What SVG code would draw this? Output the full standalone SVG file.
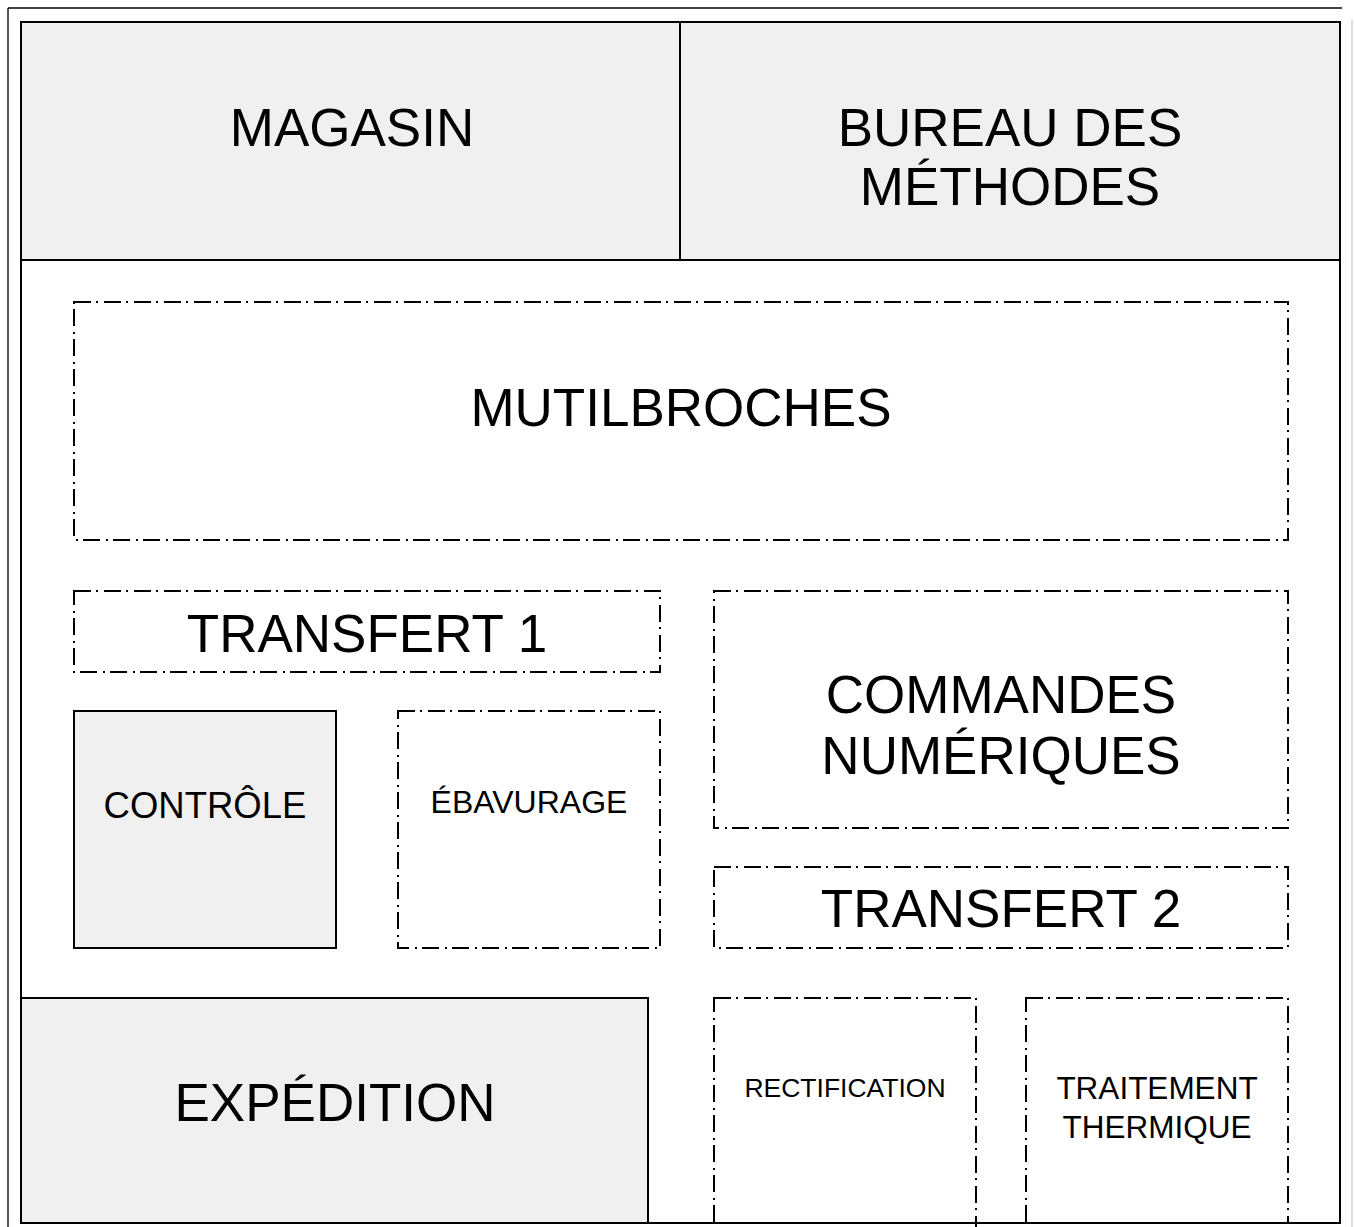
<svg xmlns="http://www.w3.org/2000/svg" width="1354" height="1227" viewBox="0 0 1354 1227">
<style>
text{font-family:"Liberation Sans",Arial,sans-serif;fill:#000;text-anchor:middle}
.solid{fill:#f0f0f0;stroke:#000;stroke-width:2}
.dash{fill:none;stroke:#000;stroke-width:2;stroke-dasharray:17 5 2 6}
.big{font-size:53px}
.mid{font-size:36.5px}
.sm{font-size:32px}
.tt{font-size:31.5px}
.xs{font-size:26.5px}
</style>
<rect width="1354" height="1227" fill="#fff"/>
<g id="frame">
<line x1="8" y1="8" x2="8" y2="1227" stroke="#555" stroke-width="2"/>
<line x1="8" y1="8" x2="1342" y2="8" stroke="#000" stroke-width="1.5"/>
<line x1="1352" y1="20" x2="1352" y2="1227" stroke="#bbb" stroke-width="1"/>
<rect x="21" y="22" width="1319" height="1201" fill="#fff" stroke="#000" stroke-width="2"/>
</g>
<g id="magasin"><rect class="solid" x="21" y="22" width="659" height="238"/><text class="big" x="352" y="146">MAGASIN</text></g>
<g id="bureau"><rect class="solid" x="680" y="22" width="660" height="238"/><text class="big" x="1010" y="146">BUREAU DES</text><text class="big" x="1010" y="205">MÉTHODES</text></g>
<g id="mutilbroches"><rect class="dash" x="74" y="302" width="1214" height="238"/><text class="big" x="681" y="426">MUTILBROCHES</text></g>
<g id="transfert1"><rect class="dash" x="74" y="591" width="586" height="81"/><text class="big" x="367" y="652">TRANSFERT 1</text></g>
<g id="commandes"><rect class="dash" x="714" y="591" width="574" height="237"/><text class="big" x="1001" y="713">COMMANDES</text><text class="big" x="1001" y="774">NUMÉRIQUES</text></g>
<g id="controle"><rect class="solid" x="74" y="711" width="262" height="237"/><text class="mid" x="205" y="818">CONTRÔLE</text></g>
<g id="ebavurage"><rect class="dash" x="398" y="711" width="262" height="237"/><text class="sm" x="529" y="813">ÉBAVURAGE</text></g>
<g id="transfert2"><rect class="dash" x="714" y="867" width="574" height="81"/><text class="big" x="1001" y="927">TRANSFERT 2</text></g>
<g id="expedition"><rect class="solid" x="21" y="998" width="627" height="225"/><text class="big" x="335" y="1121">EXPÉDITION</text></g>
<g id="rectification"><rect class="dash" x="714" y="998" width="262" height="240"/><text class="xs" x="845" y="1097">RECTIFICATION</text></g>
<g id="traitement"><rect class="dash" x="1026" y="998" width="262" height="225"/><text class="tt" x="1157" y="1099">TRAITEMENT</text><text class="tt" x="1157" y="1138">THERMIQUE</text></g>
<g id="connectors"></g>
</svg>
